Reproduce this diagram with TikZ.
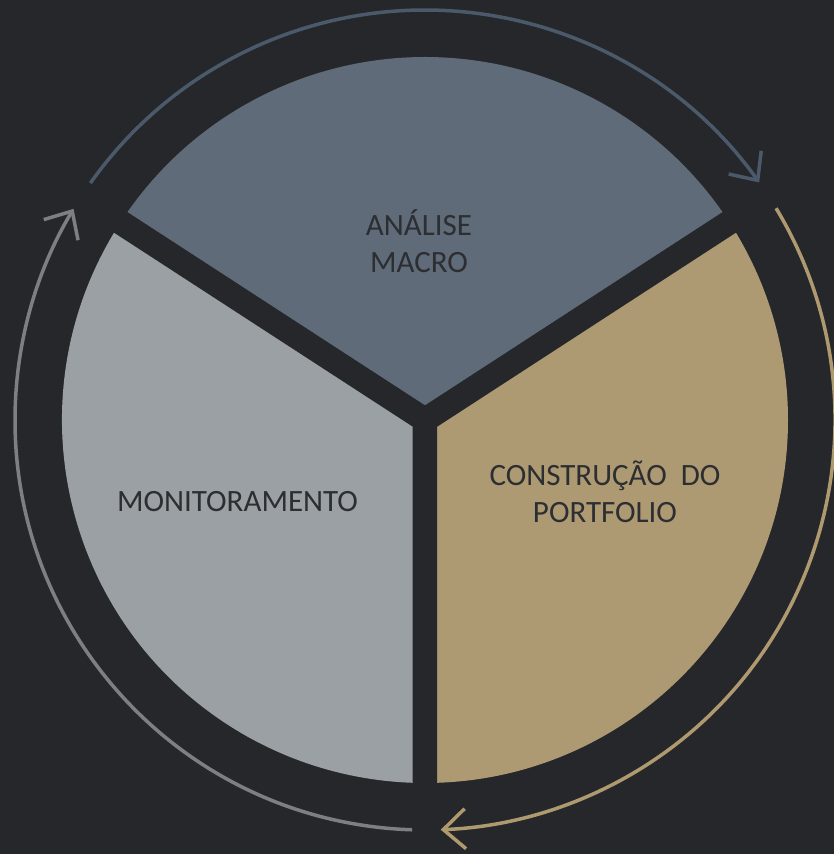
\documentclass[tikz,border=0pt]{standalone}
\usepackage{fontspec}
\setmainfont{Carlito}
\usetikzlibrary{arrows.meta}
\definecolor{bgc}{HTML}{25272A}
\definecolor{topc}{HTML}{5F6B79}
\definecolor{leftc}{HTML}{9AA0A3}
\definecolor{rightc}{HTML}{AD9A73}
\definecolor{arcblue}{HTML}{4B5A6B}
\definecolor{arctan}{HTML}{AF9A70}
\definecolor{arcgrey}{HTML}{7E7F81}
\definecolor{txt}{HTML}{2C2E31}
\begin{document}
\begin{tikzpicture}[x=1pt,y=1pt,
  gapband/.style={draw=bgc, line width=24.5pt},
  cyclearc/.style={line width=3.5pt, -{Straight Barb[length=22pt,width=40pt]}},
  sectortext/.style={text=txt, font=\fontsize{31}{37}\selectfont, align=center, anchor=base, inner sep=0pt}]
\fill[bgc] (-425,-434) rectangle (409,420);
\useasboundingbox (-425,-434) rectangle (409,420);
% sectors
\fill[topc] (0,0) -- (33:363) arc[start angle=33,end angle=147,radius=363] -- cycle;
\fill[leftc] (0,0) -- (147:363) arc[start angle=147,end angle=270,radius=363] -- cycle;
\fill[rightc] (0,0) -- (-90:363) arc[start angle=-90,end angle=33,radius=363] -- cycle;
% gaps
\draw[gapband] (0,0) -- (33:380) (0,0) -- (147:380) (0,0) -- (270:380);
\fill[bgc] (0,0) circle (12.25);
% cycle arrows
\draw[cyclearc, draw=arcblue] (144.7:410) arc[start angle=144.7, end angle=35.4, radius=410];
\draw[cyclearc, draw=arctan] (31.1:410) arc[start angle=31.1, end angle=-87.8, radius=410];
\draw[cyclearc, draw=arcgrey] (-91.8:410) arc[start angle=-91.8, end angle=-211, radius=410];
% texts (base = baseline of last line)
\node[sectortext] (analise) at (-6,147.5) {ANÁLISE\\MACRO};
\node[sectortext] (construcao) at (180,-102.5) {CONSTRUÇÃO\ \ DO\\PORTFOLIO};
\node[sectortext] (monit) at (-187.5,-91.7) {MONITORAMENTO};
\end{tikzpicture}
\end{document}
